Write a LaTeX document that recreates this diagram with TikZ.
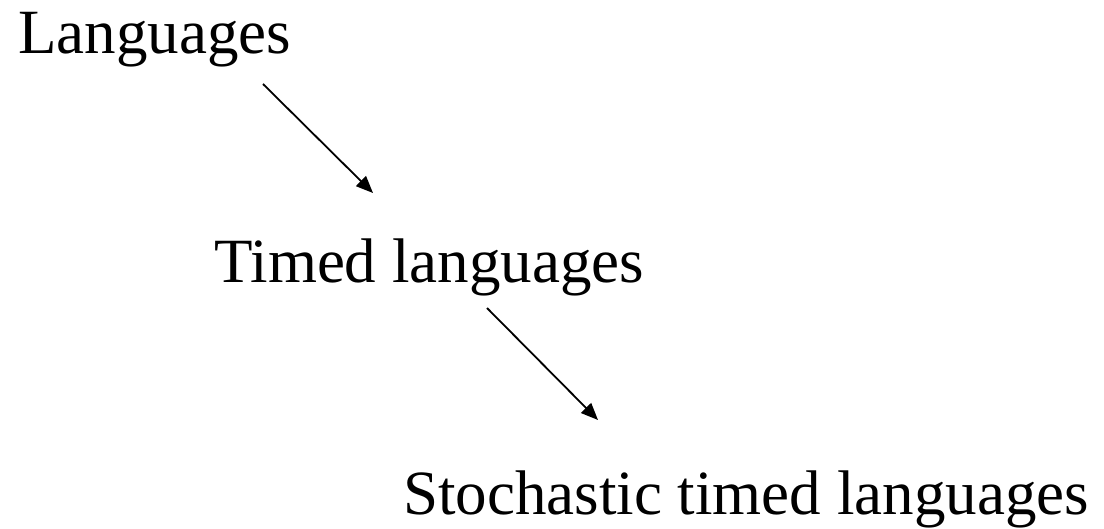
\documentclass[tikz,border=0pt]{standalone}
\usepackage{fontspec}
\setmainfont{Liberation Serif}
\usepackage{tikz}
\usetikzlibrary{arrows.meta,positioning}

\begin{document}
\begin{tikzpicture}[
label/.style={inner sep=0pt,anchor=base west,font=\fontsize{63pt}{70pt}\selectfont},
arrow/.style={-{Triangle[length=17pt,width=14pt]},line width=1.8pt}
]
\useasboundingbox (0pt,0pt) rectangle (1104pt,528pt);
\node[label] (lang) at (18pt,474pt) {Languages};
\node[label] (timed) at (214pt,245pt) {Timed languages};
\node[label] (stoch) at (403pt,13pt) {Stochastic timed languages};
\draw[arrow] ([shift={(245pt,-30pt)}]lang.base west)--([shift={(159pt,90pt)}]timed.base west);
\draw[arrow] ([shift={(273pt,-25pt)}]timed.base west)--([shift={(195pt,95pt)}]stoch.base west);
\end{tikzpicture}
\end{document}
